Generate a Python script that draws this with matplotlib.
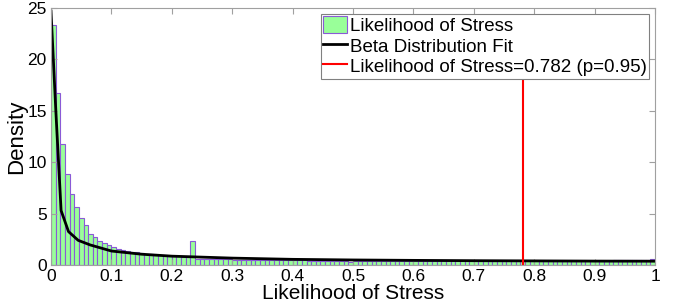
import numpy as np
import matplotlib
matplotlib.use('Agg')
import matplotlib.pyplot as plt

plt.rcParams['font.family'] = ['Liberation Sans', 'DejaVu Sans']

# histogram: 130 equal bins on [0, 1], density values
n_bins = 130
density = [
    23.3, 16.7, 11.8, 8.9, 6.9, 5.6, 4.6, 3.85,
    3.0, 2.7, 2.35, 2.1, 1.9, 1.72, 1.56, 1.46,
    1.37, 1.3, 1.23, 1.17, 1.11, 1.06, 1.01, 0.97, 0.93, 0.9, 0.86, 0.83, 0.8, 0.78,
    2.35,
    0.62, 0.61, 0.6, 0.58, 0.57, 0.56, 0.55, 0.54, 0.53, 0.52, 0.51, 0.5, 0.5, 0.49, 0.48,
    0.48, 0.47, 0.47, 0.46, 0.46, 0.45, 0.45, 0.44, 0.44, 0.43, 0.43, 0.43, 0.42, 0.42,
    0.42, 0.41, 0.41, 0.41, 0.3,
    0.4, 0.4, 0.4, 0.39, 0.39, 0.39, 0.39, 0.38, 0.38, 0.38, 0.38, 0.38, 0.37, 0.37,
    0.37, 0.37, 0.37, 0.37, 0.36, 0.36, 0.36, 0.36, 0.36, 0.36, 0.36,
    0.36, 0.35, 0.36, 0.35, 0.35, 0.36, 0.35, 0.35, 0.35, 0.36, 0.35, 0.35, 0.35, 0.35, 0.35,
    0.36, 0.35, 0.35, 0.35, 0.35, 0.35, 0.36, 0.35, 0.35, 0.35, 0.35, 0.36, 0.35, 0.35, 0.36,
    0.4, 0.45, 0.5, 0.5, 0.48, 0.5, 0.5, 0.52, 0.52, 0.55,
]

fit_x = [0, 0.008, 0.0167, 0.029, 0.045, 0.065, 0.1, 0.15, 0.2, 0.3, 0.4, 0.5,
         0.6, 0.7, 0.8, 0.9, 1.0]
fit_y = [24.7, 15.0, 5.3, 3.25, 2.4, 1.95, 1.36, 1.05, 0.86, 0.67, 0.55, 0.49,
         0.45, 0.42, 0.4, 0.38, 0.37]

threshold = 0.782
threshold_top = 20

xticks = [0, 0.1, 0.2, 0.3, 0.4, 0.5, 0.6, 0.7, 0.8, 0.9, 1]
xticklabels = ['0', '0.1', '0.2', '0.3', '0.4', '0.5', '0.6', '0.7', '0.8', '0.9', '1']
yticks = [0, 5, 10, 15, 20, 25]

fig = plt.figure(figsize=(6.76, 3.08), dpi=100)
ax = fig.add_axes([51 / 676, 1 - 265 / 308, 604 / 676, 257 / 308])

edges = np.linspace(0, 1, n_bins + 1)
h_bar = ax.bar(edges[:-1], density, width=edges[1] - edges[0], align='edge',
               color='#99ff99', edgecolor='#8a5ad6', linewidth=0.8)
h_fit, = ax.plot(fit_x, fit_y, color='black', linewidth=2)
h_thr, = ax.plot([threshold, threshold], [0, threshold_top], color='red',
                 linewidth=1.5)

ax.set_xlim(0, 1)
ax.set_ylim(0, 25)
ax.set_xticks(xticks)
ax.set_xticklabels(xticklabels)
ax.set_yticks(yticks)
ax.tick_params(direction='in', length=4, color='#a0a0a0', labelsize=12.5, pad=3,
               top=True, right=True)
for s in ax.spines.values():
    s.set_color('#a0a0a0')
    s.set_linewidth(0.8)

ax.set_xlabel('Likelihood of Stress', fontsize=15, labelpad=0)
ax.set_ylabel('Density', fontsize=16, labelpad=0)

leg = ax.legend([h_bar, h_fit, h_thr],
                ['Likelihood of Stress', 'Beta Distribution Fit',
                 'Likelihood of Stress=0.782 (p=0.95)'],
                loc='upper right', fontsize=13.5, frameon=True, fancybox=False,
                framealpha=1, handlelength=1.25, handleheight=1.0,
                handletextpad=0.15, labelspacing=0.08, borderpad=0.15,
                borderaxespad=0.3)
leg.get_frame().set_edgecolor('#808080')
leg.get_frame().set_linewidth(0.8)

fig.savefig('out.png', dpi=100)
